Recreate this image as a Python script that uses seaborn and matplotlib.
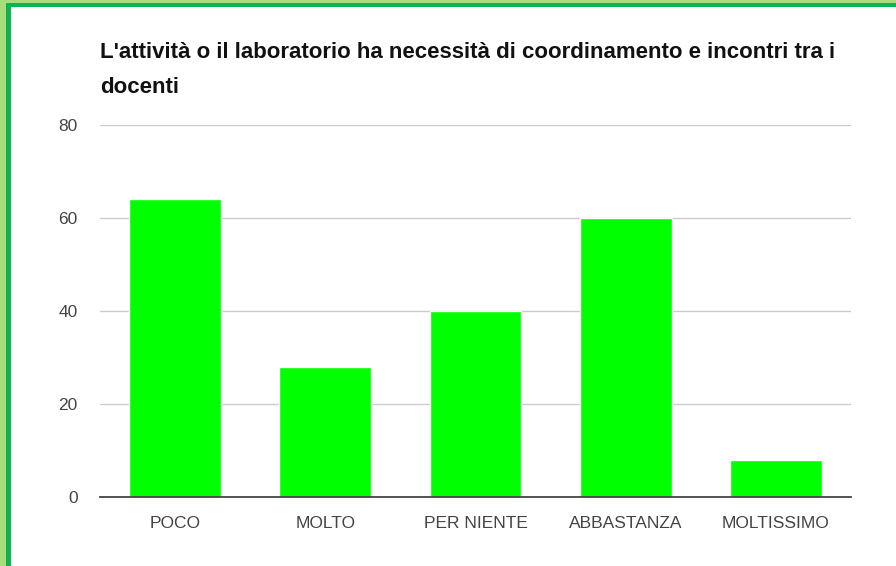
import matplotlib
matplotlib.use("Agg")
import matplotlib.pyplot as plt
import seaborn as sns
import pandas as pd
from matplotlib.patches import Rectangle

categories = ["POCO", "MOLTO", "PER NIENTE", "ABBASTANZA", "MOLTISSIMO"]
values = [64, 28, 40, 60, 8]
yticks = [0, 20, 40, 60, 80]
title_lines = ["L'attività o il laboratorio ha necessità di coordinamento e incontri tra i",
               "docenti"]

sns.set_theme(style="white")
plt.rcParams['font.family'] = ['Liberation Sans', 'DejaVu Sans']

df = pd.DataFrame({"cat": categories, "val": values})

W, H = 896, 566
fig = plt.figure(figsize=(W / 100, H / 100), dpi=100)
fig.patch.set_facecolor("white")

# green frame (top and left only; image is cropped on the other sides)
light = "#a9dc7a"
dark = "#0fb24c"
fig.add_artist(Rectangle((0, 1 - 2.5 / H), 1, 2.5 / H, transform=fig.transFigure,
                         facecolor=light, edgecolor="none", zorder=10))
fig.add_artist(Rectangle((0, 0), 6 / W, 1, transform=fig.transFigure,
                         facecolor=light, edgecolor="none", zorder=10))
fig.add_artist(Rectangle((6 / W, 1 - 7 / H), 1, 4.5 / H, transform=fig.transFigure,
                         facecolor=dark, edgecolor="none", zorder=11))
fig.add_artist(Rectangle((6 / W, 0), 5 / W, 1 - 2.5 / H, transform=fig.transFigure,
                         facecolor=dark, edgecolor="none", zorder=11))

ax = fig.add_axes([100 / W, 1 - 497 / H, 751 / W, 372 / H])
sns.barplot(data=df, x="cat", y="val", color="#00ff00", saturation=1, width=0.61,
            ax=ax, zorder=3)
ax.set_ylim(0, 80)
ax.set_xlim(-0.5, len(categories) - 0.5)
ax.set_yticks(yticks)
ax.set_yticklabels([str(v) for v in yticks])
ax.yaxis.grid(True, color="#cccccc", linewidth=1, zorder=0)
ax.set_axisbelow(True)
for s in ["top", "right", "left"]:
    ax.spines[s].set_visible(False)
ax.spines["bottom"].set_color("#444444")
ax.spines["bottom"].set_linewidth(1.3)
ax.spines["bottom"].set_zorder(5)
ax.set_xlabel("")
ax.set_ylabel("")
ax.tick_params(axis="y", length=0, pad=16, labelsize=12.5, labelcolor="#444444")
ax.tick_params(axis="x", length=0, pad=14, labelsize=12.5, labelcolor="#444444")

for i, line in enumerate(title_lines):
    fig.text(100 / W, 1 - (58 + 35 * i) / H, line, ha="left", va="baseline", fontsize=16,
             fontweight="bold", color="#111111")

fig.savefig("out.png", dpi=100, facecolor="white")
